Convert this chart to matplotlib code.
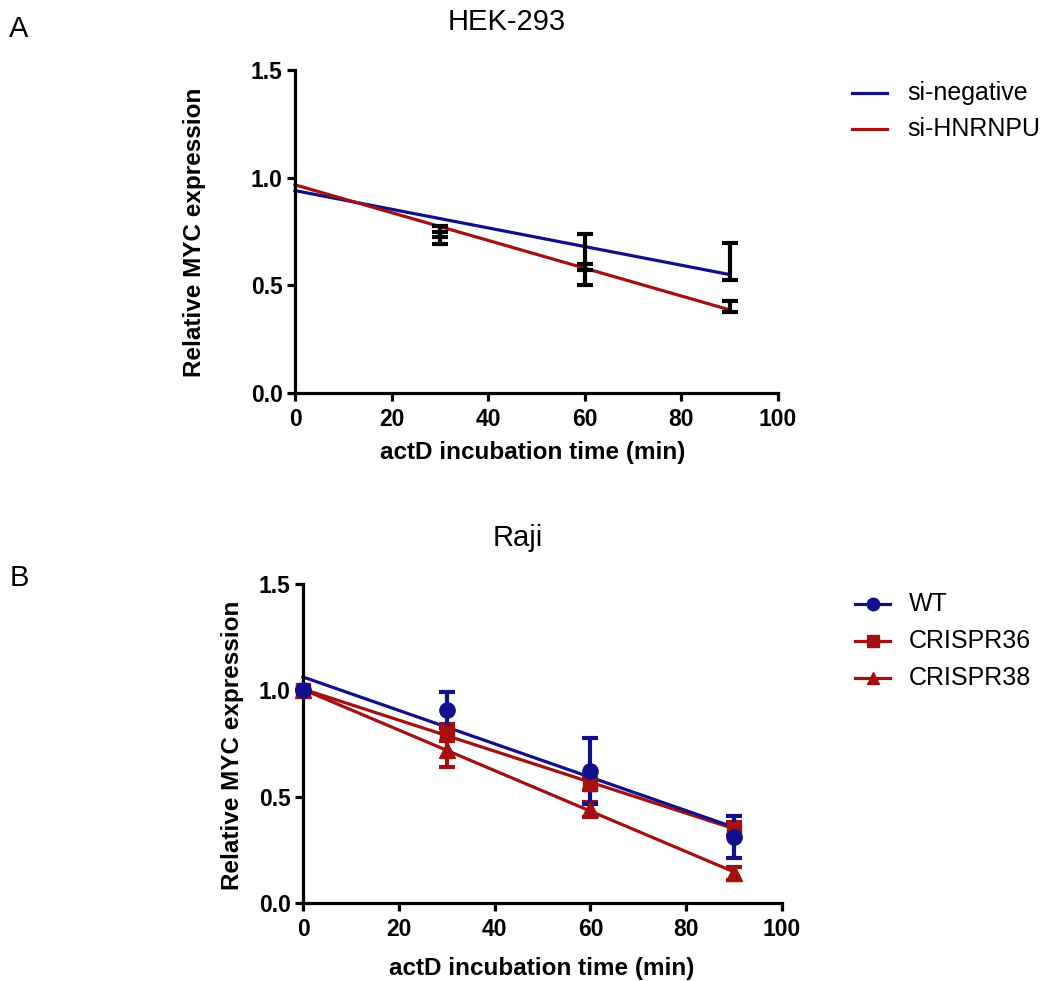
import numpy as np
import matplotlib
matplotlib.use("Agg")
import matplotlib.pyplot as plt
from matplotlib.lines import Line2D

plt.rcParams['font.family'] = ['Liberation Sans', 'DejaVu Sans']

# ---------------- data ----------------
time_min = [0, 30, 60, 90]

# Panel A: HEK-293
hek_neg_mean = [1.0, 0.75, 0.62, 0.61]
hek_neg_err = [0.0, 0.025, 0.12, 0.085]
hek_hn_mean = [1.0, 0.72, 0.585, 0.40]
hek_hn_err = [0.0, 0.03, 0.015, 0.025]
hek_labels = ["si-negative", "si-HNRNPU"]

# Panel B: Raji
raji_wt_mean = [1.0, 0.907, 0.62, 0.31]
raji_wt_err = [0.0, 0.085, 0.155, 0.10]
raji_c36_mean = [1.0, 0.80, 0.56, 0.35]
raji_c36_err = [0.0, 0.04, 0.03, 0.03]
raji_c38_mean = [1.0, 0.72, 0.44, 0.14]
raji_c38_err = [0.0, 0.08, 0.035, 0.03]
raji_labels = ["WT", "CRISPR36", "CRISPR38"]

x_ticks = [0, 20, 40, 60, 80, 100]
y_ticks = [0.0, 0.5, 1.0, 1.5]
tick_fmt = ["0.0", "0.5", "1.0", "1.5"]

BLUE = '#10108c'
RED = '#a50f0f'

W, H = 1042, 981
fig = plt.figure(figsize=(W / 100, H / 100), dpi=100)


def ax_at(l, t, r, b):
    return fig.add_axes([l / W, 1 - b / H, (r - l) / W, (b - t) / H])


def style(ax):
    ax.set_xlim(0, 100)
    ax.set_ylim(0, 1.5)
    for s in ['top', 'right']:
        ax.spines[s].set_visible(False)
    for s in ['left', 'bottom']:
        ax.spines[s].set_linewidth(2.3)
    ax.set_xticks(x_ticks)
    ax.set_xticklabels([str(v) for v in x_ticks])
    ax.set_yticks(y_ticks)
    ax.set_yticklabels(tick_fmt)
    ax.tick_params(direction='out', length=6, width=2.3, labelsize=16.5)
    ax.tick_params(axis='x', pad=5)
    ax.tick_params(axis='y', pad=3)
    for lb in ax.get_xticklabels() + ax.get_yticklabels():
        lb.set_fontweight('bold')


def fit_line(ax, x, y, color):
    k, b = np.polyfit(x, y, 1)
    xs = np.array([x[0], x[-1]])
    ax.plot(xs, k * xs + b, color=color, lw=2.3, zorder=2, clip_on=False)


def ftext(x, y, s, **kw):
    fig.text(x / W, 1 - y / H, s, **kw)


# ---------------- Panel A ----------------
axA = ax_at(295, 70, 778, 393)
style(axA)
t = np.array(time_min)
fit_line(axA, t, hek_neg_mean, BLUE)
fit_line(axA, t, hek_hn_mean, RED)
for m, e in [(hek_neg_mean, hek_neg_err), (hek_hn_mean, hek_hn_err)]:
    axA.errorbar(t[1:], m[1:], yerr=e[1:], fmt='none', ecolor='black',
                 elinewidth=3, capsize=6, capthick=3, zorder=3)
ftext(533, 453, "actD incubation time (min)", ha='center', va='center',
      fontsize=17.5, fontweight='bold')
ftext(195, 232, "Relative MYC expression", ha='center', va='center',
      fontsize=17.5, fontweight='bold', rotation=90)
ftext(507, 22, "HEK-293", ha='center', va='center', fontsize=21)
ftext(19, 29, "A", ha='center', va='center', fontsize=21)

# legend A
for i, (lab, col) in enumerate(zip(hek_labels, [BLUE, RED])):
    yy = 93 + 36 * i
    fig.add_artist(Line2D([852 / W, 887 / W], [1 - yy / H, 1 - yy / H],
                          color=col, lw=2.3, transform=fig.transFigure))
    ftext(907, yy, lab, ha='left', va='center', fontsize=18)

# ---------------- Panel B ----------------
axB = ax_at(303, 584, 782, 903)
style(axB)
series = [
    (raji_c38_mean, raji_c38_err, RED, '^', 11),
    (raji_c36_mean, raji_c36_err, RED, 's', 10),
    (raji_wt_mean, raji_wt_err, BLUE, 'o', 11),
]
for m, e, col, mk, ms in series:
    fit_line(axB, t, m, col)
for m, e, col, mk, ms in series:
    axB.errorbar(t, m, yerr=e, fmt=mk, color=col, ms=ms, mec=col,
                 elinewidth=3, capsize=6, capthick=3, zorder=4, clip_on=False)
ftext(542, 968, "actD incubation time (min)", ha='center', va='center',
      fontsize=17.5, fontweight='bold')
ftext(233, 745, "Relative MYC expression", ha='center', va='center',
      fontsize=17.5, fontweight='bold', rotation=90)
ftext(518, 538, "Raji", ha='center', va='center', fontsize=21)
ftext(19, 578, "B", ha='center', va='center', fontsize=21)

# legend B
leg_style = [(BLUE, 'o', 9), (RED, 's', 8), (RED, '^', 9)]
for i, (lab, (col, mk, ms)) in enumerate(zip(raji_labels, leg_style)):
    yy = 604 + 37 * i
    fig.add_artist(Line2D([855 / W, 890 / W], [1 - yy / H, 1 - yy / H],
                          color=col, lw=2.3, transform=fig.transFigure))
    fig.add_artist(Line2D([872.5 / W], [1 - yy / H], color=col, marker=mk,
                          ms=ms, transform=fig.transFigure))
    ftext(909, yy, lab, ha='left', va='center', fontsize=18)

fig.savefig("out.png", dpi=100)
